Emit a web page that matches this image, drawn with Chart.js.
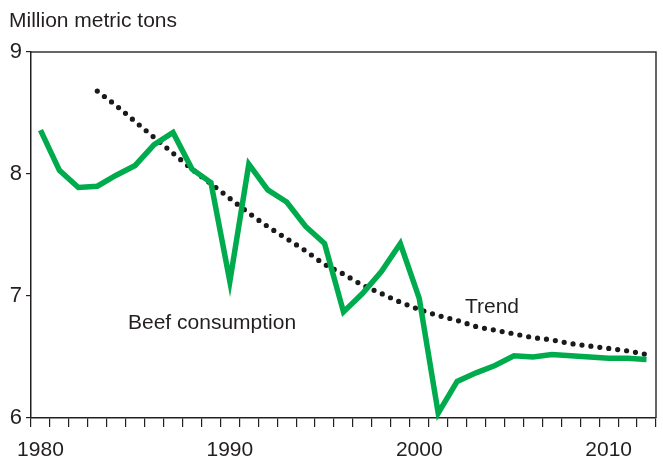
<!DOCTYPE html>
<html>
<head>
<meta charset="utf-8">
<script src="https://cdn.jsdelivr.net/npm/chart.js@4"></script>
<style>
  html, body { margin: 0; padding: 0; background: #fff; }
  #wrap { width: 663px; height: 457px; position: relative; }
</style>
</head>
<body>
<div id="wrap"><canvas id="beefChart"></canvas></div>
<script>
// Years on the x axis
const years = [];
for (let y = 1980; y <= 2012; y++) years.push(String(y));

// Beef consumption, million metric tons
const beefConsumption = [
  8.36, 8.03, 7.89, 7.90, 7.99, 8.07, 8.24, 8.34, 8.04, 7.93,
  7.12, 8.08, 7.87, 7.77, 7.57, 7.43, 6.87, 7.02, 7.20, 7.43,
  6.98, 6.04, 6.30, 6.37, 6.43, 6.51, 6.50, 6.52, 6.51, 6.50,
  6.49, 6.49, 6.48
];

// Trend line (starts in 1983)
const trend = [
  null, null, null, 8.68, 8.56, 8.43, 8.30, 8.17, 8.04, 7.92,
  7.80, 7.68, 7.57, 7.47, 7.37, 7.26, 7.18, 7.09, 7.02, 6.95,
  6.89, 6.84, 6.80, 6.75, 6.72, 6.69, 6.66, 6.64, 6.61, 6.59,
  6.57, 6.55, 6.52
];

const yTicks = [6, 7, 8, 9];
const xLabelYears = ['1980', '1990', '2000', '2010'];

const textColor = '#231f20';
const fontFamily = '"Liberation Sans", Arial, Helvetica, sans-serif';

// Frame on top and right, unit label and series labels
const framePlugin = {
  id: 'framePlugin',
  afterDraw(chart) {
    const ctx = chart.ctx;
    const area = chart.chartArea;
    const xs = chart.scales.x;
    const ys = chart.scales.y;
    ctx.save();
    ctx.strokeStyle = '#333';
    ctx.lineWidth = 1.5;
    ctx.beginPath();
    ctx.moveTo(area.left, area.top);
    ctx.lineTo(area.right, area.top);
    ctx.lineTo(area.right, area.bottom);
    ctx.stroke();

    ctx.fillStyle = textColor;
    ctx.font = '21px ' + fontFamily;
    ctx.textBaseline = 'alphabetic';
    ctx.textAlign = 'left';
    ctx.fillText('Million metric tons', 9, 27);

    ctx.textAlign = 'center';
    ctx.textBaseline = 'middle';
    ctx.fillText('Beef consumption', xs.getPixelForValue(9.06), ys.getPixelForValue(6.78));
    ctx.fillText('Trend', xs.getPixelForValue(23.84), ys.getPixelForValue(6.91));
    ctx.restore();
  }
};

const ctx = document.getElementById('beefChart').getContext('2d');
new Chart(ctx, {
  type: 'line',
  data: {
    labels: years,
    datasets: [
      {
        label: 'Beef consumption',
        data: beefConsumption,
        borderColor: '#00ab4e',
        borderWidth: 5.5,
        borderJoinStyle: 'miter',
        pointRadius: 0,
        tension: 0,
        clip: false,
      },
      {
        label: 'Trend',
        data: trend,
        borderColor: '#1a1a1a',
        borderWidth: 5.2,
        borderDash: [0, 9],
        borderCapStyle: 'round',
        pointRadius: 0,
        cubicInterpolationMode: 'monotone',
        spanGaps: false,
        clip: false,
      },
    ],
  },
  options: {
    responsive: true,
    maintainAspectRatio: false,
    animation: false,
    layout: {
      padding: { top: 52, right: 7, left: 0, bottom: 0 },
    },
    plugins: {
      legend: { display: false },
      tooltip: { enabled: false },
    },
    scales: {
      x: {
        type: 'category',
        offset: true,
        grid: {
          offset: true,
          drawOnChartArea: false,
          drawTicks: true,
          tickLength: 9,
          color: '#231f20',
          lineWidth: 1.2,
        },
        border: { color: '#231f20', width: 1.5 },
        ticks: {
          autoSkip: false,
          maxRotation: 0,
          padding: 11,
          color: textColor,
          font: { family: fontFamily, size: 21 },
          callback: function (value) {
            const lbl = this.getLabelForValue(value);
            return xLabelYears.includes(lbl) ? lbl : '';
          },
        },
        afterFit(scale) {
          scale.height = 39;
        },
      },
      y: {
        min: 6,
        max: 9,
        afterBuildTicks(scale) {
          scale.ticks = yTicks.map((v) => ({ value: v }));
        },
        grid: {
          drawOnChartArea: false,
          drawTicks: true,
          tickLength: 5,
          color: '#231f20',
          lineWidth: 1.2,
        },
        border: { color: '#231f20', width: 1.5 },
        ticks: {
          padding: 4,
          color: textColor,
          font: { family: fontFamily, size: 22 },
        },
        afterFit(scale) {
          scale.width = 31;
        },
      },
    },
  },
  plugins: [framePlugin],
});
</script>
</body>
</html>
